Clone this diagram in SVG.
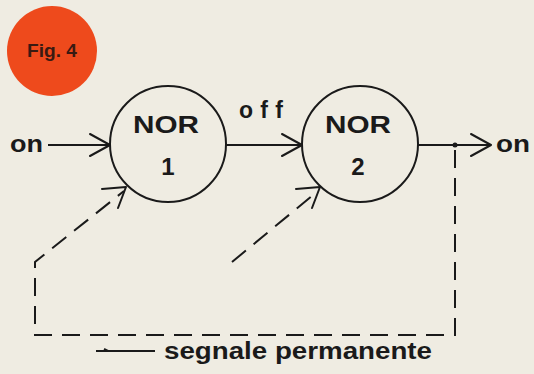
<svg xmlns="http://www.w3.org/2000/svg" width="534" height="374" viewBox="0 0 534 374">
<style>
.t{font-family:"Liberation Sans",Arial,sans-serif;fill:#1a1a1a;font-weight:bold;}
.ln{stroke:#1a1a1a;stroke-width:2;fill:none;}
.ds{stroke:#1a1a1a;stroke-width:2;fill:none;stroke-dasharray:18 10;}
.ar{stroke:#1a1a1a;stroke-width:2;fill:none;stroke-linecap:round;stroke-linejoin:round;}
</style>
<rect width="534" height="374" fill="#efece2"/>
<g id="fig-label">
<circle cx="52" cy="51" r="45" fill="#ee4a1c"/>
<text x="52" y="57" text-anchor="middle" class="t" style="font-size:18px;fill:#3a1a12" textLength="50" lengthAdjust="spacingAndGlyphs">Fig. 4</text>
</g>
<g id="nor1">
<circle cx="168" cy="144" r="58" fill="none" stroke="#1a1a1a" stroke-width="2"/>
<text x="166" y="133" text-anchor="middle" class="t" style="font-size:24px" textLength="66" lengthAdjust="spacingAndGlyphs">NOR</text>
<text x="168" y="175" text-anchor="middle" class="t" style="font-size:24px">1</text>
</g>
<g id="nor2">
<circle cx="360" cy="144" r="58" fill="none" stroke="#1a1a1a" stroke-width="2"/>
<text x="358" y="133" text-anchor="middle" class="t" style="font-size:24px" textLength="66" lengthAdjust="spacingAndGlyphs">NOR</text>
<text x="358" y="175" text-anchor="middle" class="t" style="font-size:24px">2</text>
</g>
<g id="connectors">
<line class="ln" x1="48" y1="145" x2="110" y2="145"/>
<polyline class="ar" points="90,134 110,145 90,156"/>
<line class="ln" x1="226" y1="145" x2="302" y2="145"/>
<polyline class="ar" points="282,134 302,145 282,156"/>
<line class="ln" x1="418" y1="145" x2="490" y2="145"/>
<polyline class="ar" points="471,134 491,145 471,156"/>
<circle cx="455" cy="145" r="2.5" fill="#1a1a1a"/>
<polyline class="ds" points="455,150 455,335 35,335 35,262 124,191"/>
<polyline class="ar" points="102,189 126,187 118,208"/>
<line class="ds" x1="232" y1="262" x2="318" y2="191"/>
<polyline class="ar" points="296,189 320,187 312,208"/>
</g>
<g id="labels">
<text x="10" y="152" class="t" style="font-size:23px" textLength="33" lengthAdjust="spacingAndGlyphs">on</text>
<text x="239" y="118" class="t" style="font-size:23px;letter-spacing:4px" textLength="48" lengthAdjust="spacing">off</text>
<text x="496" y="152" class="t" style="font-size:23px" textLength="34" lengthAdjust="spacingAndGlyphs">on</text>
<line class="ln" x1="96" y1="351" x2="155" y2="351"/>
<line class="ln" x1="104" y1="349" x2="108" y2="351"/>
<text x="164" y="359" class="t" style="font-size:23px" textLength="268" lengthAdjust="spacingAndGlyphs">segnale  permanente</text>
</g>
</svg>
